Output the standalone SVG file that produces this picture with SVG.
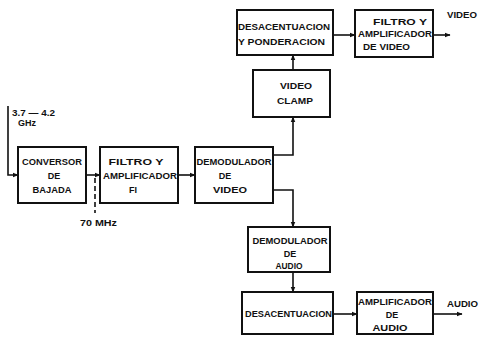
<svg xmlns="http://www.w3.org/2000/svg" width="480" height="338" viewBox="0 0 480 338">
<style>
.b{fill:#fff;stroke:#111;stroke-width:2}
.t{font-family:"Liberation Sans",Arial,sans-serif;font-weight:bold;font-size:9px;fill:#111}
.m{text-anchor:middle}
.c{fill:none;stroke:#111;stroke-width:1.6}
.d{fill:none;stroke:#111;stroke-width:1.6;stroke-dasharray:5 3}
</style>
<defs>
<marker id="a" viewBox="0 0 10 10" refX="9" refY="5" markerWidth="6" markerHeight="6" orient="auto" markerUnits="userSpaceOnUse"><path d="M0,1L10,5L0,9z" fill="#111"/></marker>
</defs>
<rect width="480" height="338" fill="#fff"/>
<g id="connectors">
<polyline class="c" points="8,106 8,175 18,175" marker-end="url(#a)"/>
<line class="c" x1="86" y1="175" x2="100" y2="175" marker-end="url(#a)"/>
<line class="d" x1="95" y1="178" x2="95" y2="213"/>
<line class="c" x1="178" y1="175" x2="195" y2="175" marker-end="url(#a)"/>
<polyline class="c" points="273,155 293,155 293,117" marker-end="url(#a)"/>
<line class="c" x1="293" y1="70" x2="293" y2="55" marker-end="url(#a)"/>
<line class="c" x1="333" y1="35" x2="355" y2="35" marker-end="url(#a)"/>
<line class="c" x1="433" y1="35" x2="450" y2="35" marker-end="url(#a)"/>
<polyline class="c" points="273,190 293,190 293,227" marker-end="url(#a)"/>
<line class="c" x1="293" y1="272" x2="293" y2="292" marker-end="url(#a)"/>
<line class="c" x1="333" y1="314" x2="357" y2="314" marker-end="url(#a)"/>
<line class="c" x1="433" y1="314" x2="462" y2="314" marker-end="url(#a)"/>
</g>
<g id="labels">
<text class="t" x="12" y="116" textLength="43" lengthAdjust="spacingAndGlyphs">3.7 — 4.2</text>
<text class="t" x="18" y="126">GHz</text>
<text class="t" x="80" y="226" textLength="37" lengthAdjust="spacingAndGlyphs">70 MHz</text>
<text class="t" x="447" y="18" textLength="30" lengthAdjust="spacingAndGlyphs">VIDEO</text>
<text class="t" x="447" y="307" textLength="31" lengthAdjust="spacingAndGlyphs">AUDIO</text>
</g>
<g id="conversor">
<rect class="b" x="18" y="147" width="68" height="56"/>
<text class="t m" x="52" y="165" textLength="60" lengthAdjust="spacingAndGlyphs">CONVERSOR</text>
<text class="t m" x="54" y="179">DE</text>
<text class="t m" x="52" y="193" textLength="39" lengthAdjust="spacingAndGlyphs">BAJADA</text>
</g>
<g id="filtro-fi">
<rect class="b" x="100" y="147" width="78" height="56"/>
<text class="t m" x="136" y="165" textLength="55" lengthAdjust="spacingAndGlyphs">FILTRO  Y</text>
<text class="t m" x="140" y="179" textLength="74" lengthAdjust="spacingAndGlyphs">AMPLIFICADOR</text>
<text class="t m" x="133" y="193">FI</text>
</g>
<g id="demod-video">
<rect class="b" x="195" y="147" width="78" height="56"/>
<text class="t m" x="234" y="165" textLength="75" lengthAdjust="spacingAndGlyphs">DEMODULADOR</text>
<text class="t m" x="225" y="179">DE</text>
<text class="t m" x="230" y="193" textLength="34" lengthAdjust="spacingAndGlyphs">VIDEO</text>
</g>
<g id="video-clamp">
<rect class="b" x="253" y="70" width="77" height="47"/>
<text class="t m" x="296" y="89" textLength="32" lengthAdjust="spacingAndGlyphs">VIDEO</text>
<text class="t m" x="295" y="104" textLength="36" lengthAdjust="spacingAndGlyphs">CLAMP</text>
</g>
<g id="desac-pond">
<rect class="b" x="237" y="10" width="96" height="45"/>
<text class="t" x="238" y="30" textLength="92" lengthAdjust="spacingAndGlyphs">DESACENTUACION</text>
<text class="t" x="238" y="45" textLength="87" lengthAdjust="spacingAndGlyphs">Y PONDERACION</text>
</g>
<g id="filtro-video">
<rect class="b" x="355" y="10" width="78" height="47"/>
<text class="t" x="373" y="25" textLength="54" lengthAdjust="spacingAndGlyphs">FILTRO Y</text>
<text class="t" x="358" y="37" textLength="74" lengthAdjust="spacingAndGlyphs">AMPLIFICADOR</text>
<text class="t" x="363" y="50" textLength="47" lengthAdjust="spacingAndGlyphs">DE VIDEO</text>
</g>
<g id="demod-audio">
<rect class="b" x="248" y="227" width="82" height="45"/>
<text class="t m" x="290" y="244" textLength="75" lengthAdjust="spacingAndGlyphs">DEMODULADOR</text>
<text class="t m" x="290" y="257">DE</text>
<text class="t m" x="289" y="269" textLength="27" lengthAdjust="spacingAndGlyphs">AUDIO</text>
</g>
<g id="desacentuacion">
<rect class="b" x="242" y="292" width="91" height="42"/>
<text class="t" x="245" y="317" textLength="87" lengthAdjust="spacingAndGlyphs">DESACENTUACION</text>
</g>
<g id="amp-audio">
<rect class="b" x="357" y="292" width="76" height="42"/>
<text class="t" x="358" y="305" textLength="74" lengthAdjust="spacingAndGlyphs">AMPLIFICADOR</text>
<text class="t m" x="392" y="318">DE</text>
<text class="t m" x="390" y="331" textLength="35" lengthAdjust="spacingAndGlyphs">AUDIO</text>
</g>
</svg>
